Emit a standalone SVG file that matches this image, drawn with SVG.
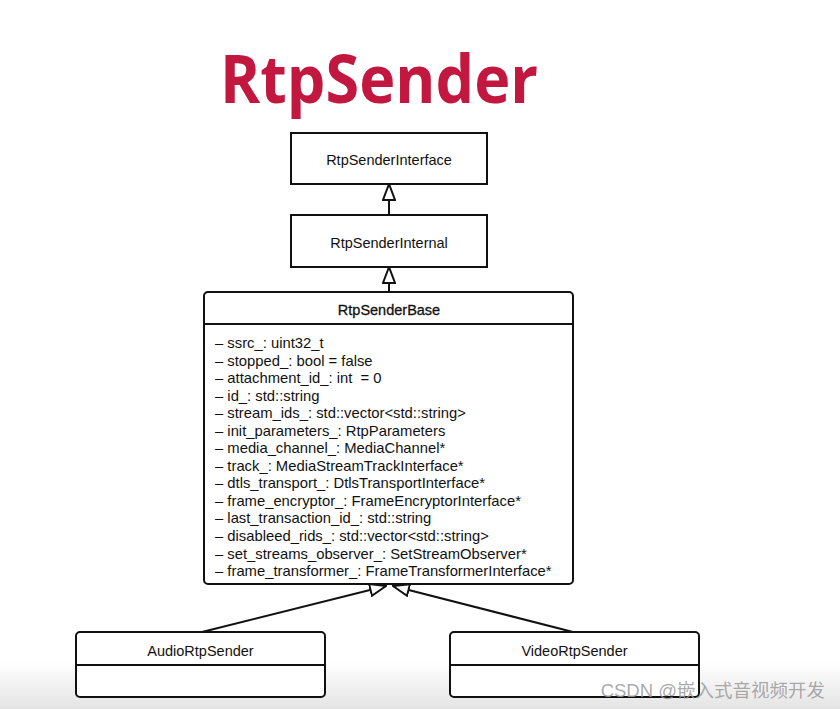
<svg xmlns="http://www.w3.org/2000/svg" width="840" height="709" viewBox="0 0 840 709">
  <defs>
    <style>
      .box { fill: #ffffff; stroke: #111111; stroke-width: 2; }
      .div { stroke: #111111; stroke-width: 2; }
      .lbl { font-family: "Liberation Sans", Arial, sans-serif; font-size: 14.5px; fill: #111111; text-anchor: middle; }
      .attr { font-family: "Liberation Sans", Arial, sans-serif; font-size: 14.8px; fill: #111111; white-space: pre; }
      .edge { stroke: #111111; stroke-width: 2; fill: none; marker-end: url(#hollow); }
    </style>
    <marker id="hollow" markerUnits="userSpaceOnUse" viewBox="-1 -1 18 14" markerWidth="18" markerHeight="14" refX="16" refY="6" orient="auto">
      <path d="M16,6 L0,0 L0,12 Z" fill="#ffffff" stroke="#111111" stroke-width="2" stroke-linejoin="miter"/>
    </marker>
    <linearGradient id="shade" x1="0" y1="0" x2="0" y2="1">
      <stop offset="0" stop-color="#ffffff"/>
      <stop offset="1" stop-color="#e4e4e4"/>
    </linearGradient>
  </defs>

  <rect x="0" y="0" width="840" height="709" fill="#ffffff"/>
  <rect x="0" y="662" width="840" height="47" fill="url(#shade)"/>

  <text x="379" y="103" font-family="'Open Sans', 'DejaVu Sans', sans-serif" font-weight="bold" font-size="66" fill="#C2173F" text-anchor="middle" textLength="318" lengthAdjust="spacingAndGlyphs">RtpSender</text>

  <g id="connectors">
    <line class="edge" x1="389" y1="214" x2="389" y2="184"/>
    <line class="edge" x1="389" y1="291" x2="389" y2="267"/>
    <line class="edge" x1="202" y1="632" x2="386" y2="586"/>
    <line class="edge" x1="573" y1="632" x2="393" y2="586"/>
  </g>

  <g id="RtpSenderInterface">
    <rect class="box" x="291" y="133" width="196" height="51"/>
    <text class="lbl" x="389" y="165">RtpSenderInterface</text>
  </g>

  <g id="RtpSenderInternal">
    <rect class="box" x="291" y="215" width="196" height="52"/>
    <text class="lbl" x="389" y="248">RtpSenderInternal</text>
  </g>

  <g id="RtpSenderBase">
    <rect class="box" x="204" y="292" width="369" height="292" rx="4" ry="4"/>
    <line class="div" x1="204" y1="324" x2="573" y2="324"/>
    <text class="lbl" x="389" y="315" stroke="#111111" stroke-width="0.3">RtpSenderBase</text>
    <text class="attr" x="215" y="348">– ssrc_: uint32_t</text>
    <text class="attr" x="215" y="365.5">– stopped_: bool = false</text>
    <text class="attr" x="215" y="383">– attachment_id_: int&#160; = 0</text>
    <text class="attr" x="215" y="400.6">– id_: std::string</text>
    <text class="attr" x="215" y="418.2">– stream_ids_: std::vector&lt;std::string&gt;</text>
    <text class="attr" x="215" y="435.7">– init_parameters_: RtpParameters</text>
    <text class="attr" x="215" y="453.2">– media_channel_: MediaChannel*</text>
    <text class="attr" x="215" y="470.8">– track_: MediaStreamTrackInterface*</text>
    <text class="attr" x="215" y="488.3">– dtls_transport_: DtlsTransportInterface*</text>
    <text class="attr" x="215" y="505.9">– frame_encryptor_: FrameEncryptorInterface*</text>
    <text class="attr" x="215" y="523.4">– last_transaction_id_: std::string</text>
    <text class="attr" x="215" y="541">– disableed_rids_: std::vector&lt;std::string&gt;</text>
    <text class="attr" x="215" y="558.5">– set_streams_observer_: SetStreamObserver*</text>
    <text class="attr" x="215" y="576">– frame_transformer_: FrameTransformerInterface*</text>
  </g>

  <g id="AudioRtpSender">
    <rect class="box" x="76" y="632" width="249" height="65" rx="4" ry="4"/>
    <line class="div" x1="76" y1="665" x2="325" y2="665"/>
    <text class="lbl" x="200.5" y="656">AudioRtpSender</text>
  </g>

  <g id="VideoRtpSender">
    <rect class="box" x="450" y="632" width="249" height="65" rx="4" ry="4"/>
    <line class="div" x1="450" y1="665" x2="699" y2="665"/>
    <text class="lbl" x="574.5" y="656">VideoRtpSender</text>
  </g>

  <text x="825" y="697" font-family="'Liberation Sans', 'Noto Sans CJK SC', sans-serif" font-size="18.5" fill="#9a9a9a" fill-opacity="0.85" text-anchor="end">CSDN @嵌入式音视频开发</text>
</svg>
